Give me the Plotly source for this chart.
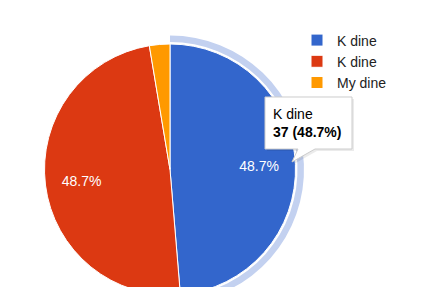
import plotly.graph_objects as go

# ---- data ----
labels = ["K dine", "K dine\u200b", "My dine"]
values = [37, 37, 2]
colors = ["#3366CC", "#DC3912", "#FF9900"]
slice_text = ["%{percent:.1%}", "%{percent:.1%}", ""]
tooltip_label = "K dine"
tooltip_value = "37 (48.7%)"

W, H = 446, 310

def fx(px):
    return px / W

def fy(py):
    return 1 - py / H

cx, cy, r = 170, 169.5, 125.5
r_ring_out, r_ring_in = 134, 127.5

main_domain = dict(x=[fx(cx - r), fx(cx + r)], y=[fy(cy + r), fy(cy - r)])
common = dict(values=values, sort=False, direction="clockwise", rotation=0,
              hoverinfo="skip")

fig = go.Figure()

# highlight ring around the first slice
fig.add_trace(go.Pie(
    labels=["ring_a", "ring_b", "ring_c"],
    marker=dict(colors=["#C3D1F0", "rgba(0,0,0,0)", "rgba(0,0,0,0)"],
                line=dict(width=0)),
    hole=r_ring_in / r_ring_out,
    textinfo="none", showlegend=False,
    domain=dict(x=[fx(cx - r_ring_out), fx(cx + r_ring_out)],
                y=[fy(cy + r_ring_out), fy(cy - r_ring_out)]),
    **common,
))

# the pie itself
fig.add_trace(go.Pie(
    labels=labels,
    marker=dict(colors=colors, line=dict(color="white", width=1)),
    textinfo="none",
    domain=main_domain,
    **common,
))

# transparent overlay that only carries the percentage labels
fig.add_trace(go.Pie(
    labels=["txt_a", "txt_b", "txt_c"],
    marker=dict(colors=["rgba(0,0,0,0)"] * 3, line=dict(width=0)),
    hole=0.42,
    texttemplate=slice_text,
    textposition="inside",
    insidetextorientation="horizontal",
    textfont=dict(color="white", size=14, family="Arial, Liberation Sans"),
    showlegend=False,
    domain=main_domain,
    **common,
))

# tooltip callout
def P(x, y):
    return f"{fx(x):.5f},{fy(y):.5f}"

box = (f"M{P(265,97)} L{P(352,97)} L{P(352,149)} L{P(315,149)} "
       f"L{P(292,162)} L{P(298,149)} L{P(265,149)} Z")
shadow = (f"M{P(267,99)} L{P(354,99)} L{P(354,151)} L{P(317,151)} "
          f"L{P(294,164)} L{P(300,151)} L{P(267,151)} Z")

fig.update_layout(
    width=W, height=H,
    margin=dict(l=0, r=0, t=0, b=0),
    paper_bgcolor="white",
    font=dict(family="Arial, Liberation Sans", size=14, color="#222222"),
    legend=dict(x=fx(297), y=fy(24.5), xanchor="left", yanchor="top",
                traceorder="normal", font=dict(size=14, color="#222222"),
                bgcolor="rgba(0,0,0,0)"),
    shapes=[
        dict(type="path", path=shadow, xref="paper", yref="paper",
             fillcolor="rgba(0,0,0,0.08)", line=dict(width=0)),
        dict(type="path", path=box, xref="paper", yref="paper",
             fillcolor="white", line=dict(color="#CCCCCC", width=1)),
    ],
    annotations=[
        dict(text=f"{tooltip_label}<br><b>{tooltip_value}</b>",
             x=fx(271), y=fy(123), xref="paper", yref="paper",
             xanchor="left", yanchor="middle", align="left",
             showarrow=False, font=dict(size=14, color="#000000")),
    ],
)

fig.write_html("out.html",
               post_script="document.documentElement.style.overflow='hidden';"
                           "document.body.style.overflow='hidden';")
